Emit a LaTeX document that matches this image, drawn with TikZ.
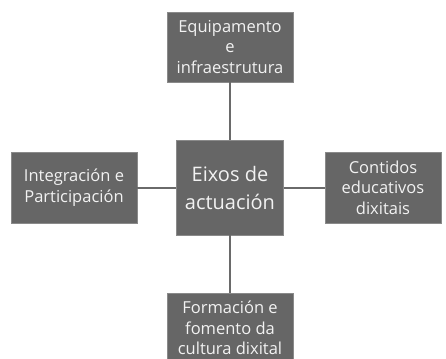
\documentclass[tikz,border=0pt]{standalone}
\usepackage{fontspec}
\setmainfont{Open Sans}
\definecolor{boxfill}{HTML}{666666}
\definecolor{boxedge}{HTML}{8A8A8A}
\definecolor{linkc}{HTML}{6A6A6A}
\definecolor{txt}{HTML}{F2F2F2}
\begin{document}
\begin{tikzpicture}[x=1pt,y=-1pt,
  box/.style={fill=boxfill,draw=boxedge,line width=0.8pt,text=txt,align=center,inner sep=0pt,
    font=\fontsize{16.5}{20.5}\selectfont},
  link/.style={draw=linkc,line width=2pt}]
\useasboundingbox (0,0) rectangle (446,358);
\node[box,minimum width=126pt,minimum height=70pt] (top) at (230,47) {Equipamento\\e\\infraestrutura};
\node[box,minimum width=107pt,minimum height=95pt,font=\fontsize{20}{28}\selectfont] (ctr) at (230,187.5) {Eixos de\\actuación};
\node[box,minimum width=126pt,minimum height=71pt] (lft) at (74,187.5) {Integración e\\Participación};
\node[box,minimum width=116pt,minimum height=71pt] (rgt) at (383,187.5) {Contidos\\educativos\\dixitais};
\node[box,minimum width=126pt,minimum height=70pt] (bot) at (230,328) {Formación e\\fomento da\\cultura dixital};
\draw[link] (top) -- (ctr);
\draw[link] (lft) -- (ctr);
\draw[link] (ctr) -- (rgt);
\draw[link] (ctr) -- (bot);
\end{tikzpicture}
\end{document}
